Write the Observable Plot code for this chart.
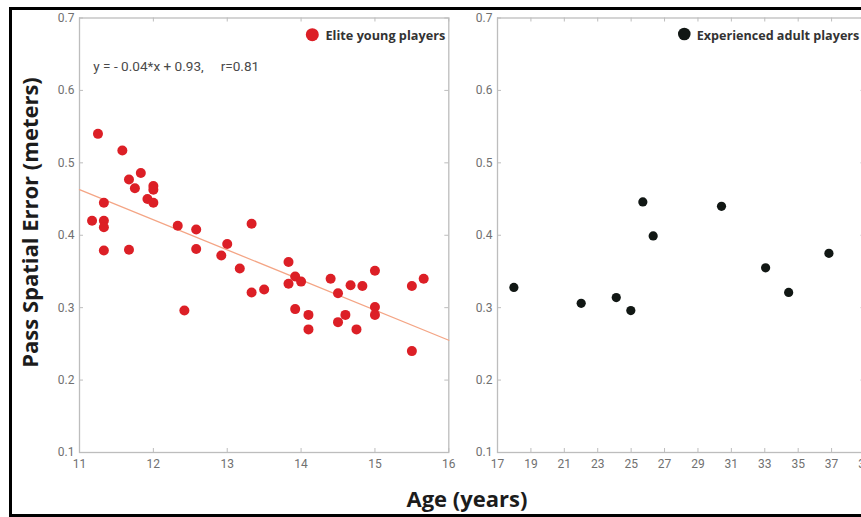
<!DOCTYPE html>
<html><head><meta charset="utf-8">
<script src="https://cdn.jsdelivr.net/npm/d3@7"></script>
<script src="https://cdn.jsdelivr.net/npm/@observablehq/plot@0.6"></script>
<style>
html,body{margin:0;padding:0;background:#fff;}
#chart{position:relative;width:861px;height:517px;overflow:hidden;background:#fff;}
#chart svg{position:absolute;left:0;top:0;}
#border{position:absolute;left:9px;top:7px;width:900px;height:510px;border:3px solid #000;box-sizing:border-box;}
</style></head><body><div id="chart"><div id="border"></div></div>
<script>
// ---- data ----
const youngAge = [11.25, 11.58, 11.83, 11.67, 11.75, 12.00, 12.00, 11.92, 12.00, 11.33,
  11.17, 11.33, 11.33, 12.33, 12.58, 13.33, 11.33, 11.67, 12.58, 13.00,
  12.92, 13.17, 12.42, 13.33, 13.50, 13.83, 13.92, 13.83, 14.00, 14.40,
  14.50, 14.67, 14.83, 15.00, 15.50, 15.66, 13.92, 14.10, 14.10, 14.50,
  14.60, 14.75, 15.00, 15.00, 15.50];
const youngError = [0.540, 0.517, 0.486, 0.477, 0.465, 0.468, 0.463, 0.450, 0.445, 0.445,
  0.420, 0.420, 0.411, 0.413, 0.408, 0.416, 0.379, 0.380, 0.381, 0.388,
  0.372, 0.354, 0.296, 0.321, 0.325, 0.363, 0.343, 0.333, 0.336, 0.340,
  0.320, 0.331, 0.330, 0.351, 0.330, 0.340, 0.298, 0.290, 0.270, 0.280,
  0.290, 0.270, 0.301, 0.290, 0.240];
const adultAge = [17.98, 22.01, 24.11, 24.98, 25.70, 26.32, 30.41, 33.05, 34.43, 36.84];
const adultError = [0.328, 0.306, 0.314, 0.296, 0.446, 0.399, 0.440, 0.355, 0.321, 0.375];
const fitAge = [11, 16];
const fitError = [0.463, 0.255];
const yTicks = [0.1, 0.2, 0.3, 0.4, 0.5, 0.6, 0.7];
const youngXTicks = [11, 12, 13, 14, 15, 16];
const adultXTicks = [17, 19, 21, 23, 25, 27, 29, 31, 33, 35, 37, 39];
const youngDomain = [11, 16];
const adultDomain = [17, 39];
const yDomain = [0.1, 0.7];
const yLabel = "Pass Spatial Error (meters)";
const xLabel = "Age (years)";
const youngLegend = "Elite young players";
const adultLegend = "Experienced adult players";
const equation = "y = - 0.04*x + 0.93,     r=0.81";

// ---- styles ----
const RED = "#dc1f26", BLACK = "#111714", FIT = "#f4a585", BOX = "#bdbdbd", TICKTXT = "#707070";
const W = 881, H = 517, TOP = 17.5, BOTTOM = 452;

function panel({ages, errors, xDomain, xTicks, left, right, color, r, extra = []}) {
  const pw = right - left, ph = BOTTOM - TOP;
  const data = ages.map((a, i) => ({age: a, err: errors[i]}));
  return Plot.plot({
    width: W, height: H,
    marginLeft: left, marginRight: W - right, marginTop: TOP, marginBottom: H - BOTTOM,
    style: {background: "transparent", overflow: "visible", maxWidth: "none",
            fontFamily: "Roboto", fontSize: "12px", color: TICKTXT},
    x: {domain: xDomain},
    y: {domain: yDomain},
    marks: [
      Plot.frame({stroke: BOX, strokeWidth: 1.3}),
      Plot.tickY(yTicks, {y: d => d, insetRight: pw - 4, stroke: BOX}),
      Plot.tickY(yTicks, {y: d => d, insetLeft: pw - 4, stroke: BOX}),
      Plot.tickX(xTicks, {x: d => d, insetBottom: ph - 4, stroke: BOX}),
      Plot.tickX(xTicks, {x: d => d, insetTop: ph - 4, stroke: BOX}),
      Plot.axisY(yTicks, {tickSize: 0, tickPadding: 5, tickFormat: d3.format(".1f"), label: null, fill: TICKTXT}),
      Plot.axisX(xTicks, {tickSize: 0, tickPadding: 7, tickFormat: d => String(d), label: null, fill: TICKTXT}),
      ...extra,
      Plot.dot(data, {x: "age", y: "err", r, fill: color, stroke: "none"})
    ]
  });
}

const chart = document.getElementById("chart");
const fitData = fitAge.map((a, i) => ({age: a, err: fitError[i]}));

chart.appendChild(panel({
  ages: youngAge, errors: youngError, xDomain: youngDomain, xTicks: youngXTicks,
  left: 79, right: 448.3, color: RED, r: 5,
  extra: [Plot.line(fitData, {x: "age", y: "err", stroke: FIT, strokeWidth: 1.3})]
}));
chart.appendChild(panel({
  ages: adultAge, errors: adultError, xDomain: adultDomain, xTicks: adultXTicks,
  left: 497, right: 864.5, color: BLACK, r: 4.6
}));

// ---- overlay texts ----
const ov = d3.create("svg").attr("width", 861).attr("height", 517);
const bold = "'Open Sans', sans-serif";
ov.append("text").attr("x", 467).attr("y", 507).attr("text-anchor", "middle")
  .attr("font-family", bold).attr("font-weight", 700).attr("font-size", 22).attr("fill", "#1c1c1c").text(xLabel);
ov.append("text").attr("transform", "translate(38,222.5) rotate(-90)").attr("text-anchor", "middle")
  .attr("font-family", bold).attr("font-weight", 700).attr("font-size", 22).attr("fill", "#1c1c1c").text(yLabel);
ov.append("text").attr("x", 93.3).attr("y", 71).attr("font-family", "Roboto").attr("font-size", 13.6)
  .attr("fill", "#4a4a4a").style("white-space", "pre").text(equation);
ov.append("circle").attr("cx", 312.3).attr("cy", 34.7).attr("r", 6.5).attr("fill", RED);
ov.append("text").attr("x", 325.5).attr("y", 40).attr("font-family", bold).attr("font-weight", 700)
  .attr("font-size", 12.7).attr("fill", "#333").text(youngLegend);
ov.append("circle").attr("cx", 684.3).attr("cy", 34).attr("r", 6.3).attr("fill", BLACK);
ov.append("text").attr("x", 696.7).attr("y", 39.5).attr("font-family", bold).attr("font-weight", 700)
  .attr("font-size", 12.6).attr("fill", "#333").text(adultLegend);
chart.appendChild(ov.node());
</script>
</body></html>
